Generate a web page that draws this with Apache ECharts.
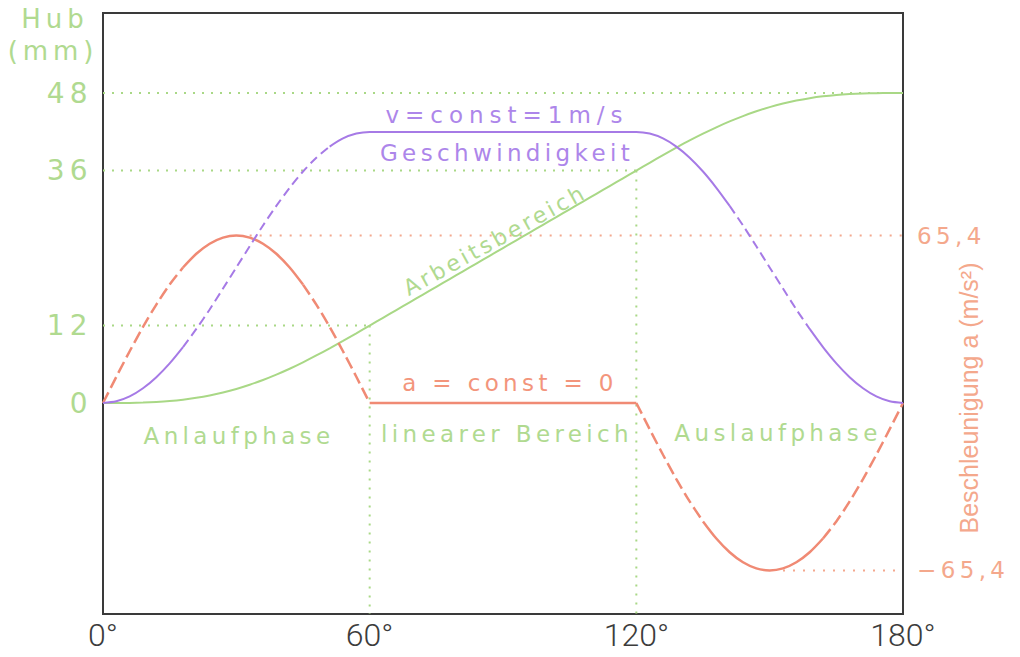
<!DOCTYPE html>
<html>
<head>
<meta charset="utf-8">
<title>Hub, Geschwindigkeit und Beschleunigung</title>
<script src="https://cdn.jsdelivr.net/npm/echarts@6/dist/echarts.min.js"></script>
<style>
  html, body { margin: 0; padding: 0; background: #ffffff; }
  #chart { width: 1020px; height: 657px; }
</style>
</head>
<body>
<div id="chart"></div>
<script>
// Drehwinkel der Kurvenscheibe (Grad)
const angles = [
  0, 3, 6, 9, 12, 15, 18, 21, 24, 27, 30, 33, 36, 39, 42, 45, 48, 51, 54, 57, 60,
  63, 66, 69, 72, 75, 78, 81, 84, 87, 90, 93, 96, 99, 102, 105, 108, 111, 114, 117, 120,
  123, 126, 129, 132, 135, 138, 141, 144, 147, 150, 153, 156, 159, 162, 165, 168, 171, 174, 177, 180
];
// Hub (mm)
const hubMm = [
  0, 0.00, 0.02, 0.07, 0.16, 0.30, 0.51, 0.80, 1.17, 1.63, 2.18, 2.83, 3.57, 4.40, 5.31, 6.30, 7.36, 8.47, 9.62, 10.80, 12.0,
  13.2, 14.4, 15.6, 16.8, 18.0, 19.2, 20.4, 21.6, 22.8, 24.0, 25.2, 26.4, 27.6, 28.8, 30.0, 31.2, 32.4, 33.6, 34.8, 36.0,
  37.20, 38.38, 39.53, 40.65, 41.70, 42.69, 43.60, 44.43, 45.17, 45.82, 46.37, 46.83, 47.20, 47.49, 47.70, 47.84, 47.93, 47.98, 48.00, 48.0
];
// Geschwindigkeit (m/s)
const speed = [
  0, 0.006, 0.024, 0.054, 0.095, 0.146, 0.206, 0.273, 0.345, 0.422, 0.5, 0.578, 0.655, 0.727, 0.794, 0.854, 0.905, 0.946, 0.976, 0.994, 1,
  1, 1, 1, 1, 1, 1, 1, 1, 1, 1, 1, 1, 1, 1, 1, 1, 1, 1, 1, 1,
  0.994, 0.976, 0.946, 0.905, 0.854, 0.794, 0.727, 0.655, 0.578, 0.5, 0.422, 0.345, 0.273, 0.206, 0.146, 0.095, 0.054, 0.024, 0.006, 0
];
// Beschleunigung a (m/s²)
const accel = [
  0, 10.23, 20.21, 29.69, 38.44, 46.24, 52.91, 58.27, 62.20, 64.59, 65.4, 64.59, 62.20, 58.27, 52.91, 46.24, 38.44, 29.69, 20.21, 10.23, 0,
  0, 0, 0, 0, 0, 0, 0, 0, 0, 0, 0, 0, 0, 0, 0, 0, 0, 0, 0, 0,
  -10.23, -20.21, -29.69, -38.44, -46.24, -52.91, -58.27, -62.20, -64.59, -65.4, -64.59, -62.20, -58.27, -52.91, -46.24, -38.44, -29.69, -20.21, -10.23, 0
];

// Achsbeschriftungen
const hubTicks = [0, 12, 36, 48];
const accelTicks = [65.4, -65.4];
const angleStep = 60;

// Strichart je Winkelbereich (Plotterstrich: steile Stücke gestrichelt)
const speedStyle = [[0, 18, 'solid'], [18, 51, 'dashed'], [51, 141, 'solid'], [141, 159, 'dashed'], [159, 180, 'solid']];
const accelStyle = [[0, 18, 'dashed'], [18, 45, 'solid'], [45, 60, 'dashed'], [60, 120, 'solid'], [120, 135, 'dashed'], [135, 162, 'solid'], [162, 180, 'dashed']];

// Hilfslinien: Hubniveau und Winkel, bis zu dem sie reichen
const hubGuideLevels = [48, 36, 12];
const hubGuideEnds = [180, 120, 60];
const accelGuides = [[33, 180, 65.4], [153, 180, -65.4]];

const HUB_MIN = -32.67, HUB_MAX = 60.39;
const ACC_MIN = -82.4, ACC_MAX = 152.3;
const V_MIN = -0.779, V_MAX = 1.439;

const GREEN = '#a9d886';
const GREEN_TEXT = '#b0da90';
const PURPLE = '#a67ae6';
const PURPLE_TEXT = '#ad86ea';
const RED = '#f08a74';
const RED_TEXT = '#f3957c';
const RED_LABEL = '#f4a88c';
const FONT = '"DejaVu Sans"';

function pairs(values, from, to) {
  const out = [];
  angles.forEach((a, i) => { if (a >= from && a <= to) out.push([a, values[i]]); });
  return out;
}

const series = [];

// gepunktete Hilfslinien (Hub)
hubGuideLevels.forEach((lvl, i) => {
  series.push({
    type: 'line', yAxisIndex: 0, silent: true, symbol: 'none', z: 1,
    lineStyle: { color: GREEN, width: 2, type: [2, 7] },
    data: [[0, lvl], [hubGuideEnds[i], lvl]]
  });
});
[[60, 12], [120, 36]].forEach(p => {
  series.push({
    type: 'line', yAxisIndex: 0, silent: true, symbol: 'none', z: 1,
    lineStyle: { color: GREEN, width: 2, type: [2, 7] },
    data: [[p[0], p[1]], [p[0], HUB_MIN]]
  });
});
// gepunktete Hilfslinien (Beschleunigung)
accelGuides.forEach(g => {
  series.push({
    type: 'line', yAxisIndex: 1, silent: true, symbol: 'none', z: 1,
    lineStyle: { color: '#f4a88e', width: 2, type: [2, 8] },
    data: [[g[0], g[2]], [g[1], g[2]]]
  });
});

// Hubkurve
series.push({
  name: 'Hub', type: 'line', yAxisIndex: 0, symbol: 'none', smooth: 0.3, z: 3,
  lineStyle: { color: GREEN, width: 2 },
  data: pairs(hubMm, 0, 180)
});
// Beschleunigung
accelStyle.forEach(s => {
  series.push({
    name: 'Beschleunigung', type: 'line', yAxisIndex: 1, symbol: 'none', smooth: 0.3, z: 4,
    lineStyle: { color: RED, width: 2.5, type: s[2] === 'dashed' ? [12, 5] : 'solid' },
    data: pairs(accel, s[0], s[1])
  });
});
// Geschwindigkeit
speedStyle.forEach(s => {
  series.push({
    name: 'Geschwindigkeit', type: 'line', yAxisIndex: 2, symbol: 'none', smooth: 0.3, z: 5,
    lineStyle: { color: PURPLE, width: 2, type: s[2] === 'dashed' ? [9, 5] : 'solid' },
    data: pairs(speed, s[0], s[1])
  });
});

function txt(text, x, y, font, color, rotation) {
  return {
    type: 'text', x: x, y: y, rotation: rotation || 0, silent: true, z: 10,
    style: {
      text: text, fill: color, font: font,
      textAlign: 'center', textVerticalAlign: 'middle', align: 'center', verticalAlign: 'middle'
    }
  };
}

const AXIS_TITLE = 'Beschleunigung a (m/s\u00b2)';

const option = {
  animation: false,
  backgroundColor: '#ffffff',
  grid: { left: 103, right: 117, top: 13, bottom: 43, show: true, borderColor: '#3a3a3a', borderWidth: 2 },
  xAxis: {
    type: 'value', min: 0, max: 180, interval: angleStep,
    axisLine: { show: false }, axisTick: { show: false }, splitLine: { show: false },
    axisLabel: { formatter: '{value}°', fontSize: 32, lineHeight: 32, color: '#3c3c3c', margin: 5, fontFamily: 'Roboto', fontWeight: 300 }
  },
  yAxis: [
    {
      type: 'value', position: 'left', min: HUB_MIN, max: HUB_MAX,
      axisLine: { show: false }, axisTick: { show: false }, splitLine: { show: false },
      axisLabel: { customValues: hubTicks, color: GREEN_TEXT, fontSize: 28, fontFamily: 'DejaVu Sans', margin: 10 }
    },
    {
      type: 'value', position: 'right', min: ACC_MIN, max: ACC_MAX,
      axisLine: { show: false }, axisTick: { show: false }, splitLine: { show: false },
      axisLabel: {
        customValues: accelTicks, color: RED_LABEL, fontSize: 23, fontFamily: 'DejaVu Sans', margin: 14,
        formatter: v => String(v).replace('.', ',').replace('-', '\u2212')
      }
    },
    { type: 'value', show: false, min: V_MIN, max: V_MAX }
  ],
  graphic: [
    txt('Hub', 55, 19, '26px ' + FONT, GREEN_TEXT),
    txt('(mm)', 53, 51, '26px ' + FONT, GREEN_TEXT),
    txt('v=const=1m/s', 507, 115, '23px ' + FONT, PURPLE_TEXT),
    txt('Geschwindigkeit', 507, 153, '23px ' + FONT, PURPLE_TEXT),
    txt('Arbeitsbereich', 495, 240, '22px ' + FONT, GREEN_TEXT, 0.505),
    txt('a = const = 0', 510, 383, '23px ' + FONT, RED_TEXT),
    txt('Anlaufphase', 239, 436, '23px ' + FONT, GREEN_TEXT),
    txt('linearer Bereich', 507, 434, '23px ' + FONT, GREEN_TEXT),
    txt('Auslaufphase', 778, 433, '23px ' + FONT, GREEN_TEXT),
    txt(AXIS_TITLE, 969, 398, '25px "Liberation Sans"', RED_LABEL, Math.PI / 2)
  ],
  series: series
};

// Zeichenabstand der geometrischen Schrift
const spacing = { 'v=const=1m/s': '0.26em', 'Arbeitsbereich': '0.15em' };
spacing[AXIS_TITLE] = '0';

const chart = echarts.init(document.getElementById('chart'), null, { renderer: 'svg' });
chart.on('finished', () => {
  document.querySelectorAll('#chart text').forEach(t => {
    const s = t.textContent;
    if (/°$/.test(s)) return;
    t.style.letterSpacing = spacing[s] !== undefined ? spacing[s] : '0.19em';
  });
});
chart.setOption(option);
</script>
</body>
</html>
